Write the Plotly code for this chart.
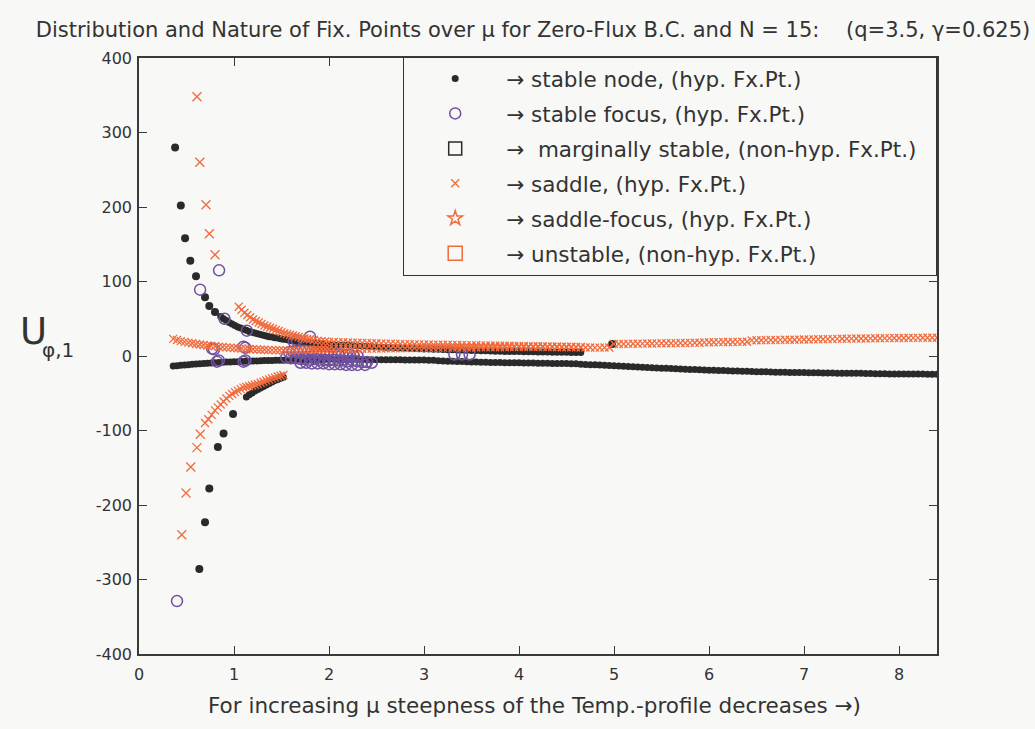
import plotly.graph_objects as go

# ---------------- data ----------------
MU_RIGHT = [2.00,2.05,2.10,2.15,2.20,2.25,2.30,2.35,2.40,2.45,
            2.50,2.55,2.60,2.65,2.70,2.75,2.80,2.85,2.90,2.95,
            3.00,3.05,3.10,3.15,3.20,3.25,3.30,3.35,3.40,3.45,
            3.50,3.55,3.60,3.65,3.70,3.75,3.80,3.85,3.90,3.95,
            4.00,4.05,4.10,4.15,4.20,4.25,4.30,4.35,4.40,4.45,
            4.50,4.55,4.60,4.65,4.70,4.75,4.80,4.85,4.90,4.95,
            5.00,5.05,5.10,5.15,5.20,5.25,5.30,5.35,5.40,5.45,
            5.50,5.55,5.60,5.65,5.70,5.75,5.80,5.85,5.90,5.95,
            6.00,6.05,6.10,6.15,6.20,6.25,6.30,6.35,6.40,6.45,
            6.50,6.55,6.60,6.65,6.70,6.75,6.80,6.85,6.90,6.95,
            7.00,7.05,7.10,7.15,7.20,7.25,7.30,7.35,7.40,7.45,
            7.50,7.55,7.60,7.65,7.70,7.75,7.80,7.85,7.90,7.95,
            8.00,8.05,8.10,8.15,8.20,8.25,8.30,8.35,8.40]

# stable node, lower near-zero branch
SN_LOW_X_LEFT = [0.36,0.40,0.44,0.48,0.52,0.56,0.60,0.64,0.68,0.72,0.76,0.80,0.84,0.88,0.92,0.96,
                 1.00,1.04,1.08,1.12,1.16,1.20,1.24,1.28,1.32,1.36,1.40,1.44,1.48,1.52,1.56,1.60,
                 1.64,1.68,1.72,1.76,1.80,1.84,1.88,1.92,1.96]
SN_LOW_Y_LEFT = [-13.5,-13,-12.5,-12,-11.6,-11.2,-10.8,-10.4,-10,-9.7,-9.4,-9.1,-8.8,-8.5,-8.2,-8,
                 -7.8,-7.6,-7.4,-7.2,-7,-6.8,-6.6,-6.4,-6.2,-6,-5.9,-5.8,-5.7,-5.6,-5.5,-5.4,
                 -5.3,-5.2,-5.1,-5,-4.9,-4.8,-4.7,-4.6,-4.5]
SN_LOW_Y_RIGHT = [-4.5,-4.5,-4.6,-4.6,-4.7,-4.7,-4.8,-4.8,-4.9,-4.9,
                  -5.0,-5.0,-5.1,-5.1,-5.2,-5.2,-5.3,-5.3,-5.4,-5.4,
                  -5.5,-5.6,-5.7,-6.5,-6.7,-6.9,-7.1,-7.3,-7.5,-7.7,
                  -7.9,-8.1,-8.4,-8.5,-8.6,-8.7,-8.8,-8.9,-9.0,-9.1,
                  -9.2,-9.3,-9.4,-9.5,-9.6,-9.7,-9.8,-9.9,-10.0,-10.1,
                  -10.2,-10.3,-10.4,-11.0,-11.3,-11.6,-11.9,-12.2,-12.5,-12.8,
                  -13.1,-13.4,-13.7,-14.0,-14.3,-14.8,-15.1,-15.4,-15.7,-16.0,
                  -16.3,-16.6,-16.9,-17.2,-17.5,-17.8,-18.0,-18.2,-18.4,-18.8,
                  -19.0,-19.2,-19.4,-19.6,-19.8,-20.0,-20.2,-20.4,-20.6,-20.8,
                  -21.0,-21.1,-21.2,-21.6,-21.7,-21.8,-21.9,-22.0,-22.1,-22.2,
                  -22.3,-22.4,-22.5,-22.6,-22.7,-22.8,-22.9,-23.0,-23.0,-23.1,
                  -23.1,-23.2,-23.2,-23.5,-23.6,-23.7,-23.8,-23.9,-24.0,-24.0,
                  -24.1,-24.1,-24.2,-24.2,-24.3,-24.3,-24.4,-24.4,-24.5]

# stable node, upper branch (sparse + dense)
SN_UP_SPARSE_X = [0.38,0.44,0.485,0.54,0.60,0.695,0.74,0.80,4.98]
SN_UP_SPARSE_Y = [280,202,158,128,107,79,67,59,16]
SN_UP_X_LEFT = [0.86,0.89,0.92,0.95,0.98,1.01,1.04,1.07,1.10,1.13,1.16,1.19,1.22,1.25,1.28,1.31,
                1.34,1.37,1.40,1.43,1.46,1.49,1.52,1.55,1.58,1.61,1.64,1.67,1.70,1.74,1.78,1.82,
                1.86,1.90,1.94]
SN_UP_Y_LEFT = [53,50,47.5,45,43,41,39,37.5,36,34.5,33,32,31,30,29,28,
                27,26,25.5,24.5,24,23,22.5,22,21,20.5,20,19.5,19,18.5,18,17.5,
                17,16.5,16]
SN_UP_Y_RIGHT = [15.5,15.2,14.9,14.6,14.3,14.0,13.7,13.4,13.1,12.8,
                 12.5,12.2,11.9,11.6,11.3,11.0,10.7,10.4,10.1,9.8,
                 9.5,9.3,9.1,8.9,8.7,8.5,8.3,8.1,7.9,7.7,
                 7.5,7.3,7.1,6.9,6.7,6.5,6.3,6.2,6.1,6.0,
                 5.9,5.8,5.7,5.6,5.5,5.4,5.3,5.2,5.1,5.0,
                 4.9,4.8,4.7,4.6]

# stable node, negative branch
SN_NEG_SPARSE_X = [0.635,0.695,0.74,0.83,0.89,0.99]
SN_NEG_SPARSE_Y = [-286,-223,-178,-122,-104,-78]
SN_NEG_X = [1.13,1.16,1.19,1.22,1.25,1.28,1.31,1.34,1.37,1.40,1.43,1.46,1.49,1.52]
SN_NEG_Y = [-55,-52,-49.5,-47,-45,-43,-41,-39,-37,-35,-33,-31.5,-30,-28.5]

# stable focus
SF_X = [0.40,0.643,0.843,0.90,1.135,1.80,1.63,1.66,0.77,0.79,0.82,0.84,1.10,1.12,1.10,1.12,
        1.55,1.60,1.65,1.70,1.75,1.80,1.85,1.90,1.95,2.00,2.05,2.10,2.15,2.20,2.25,2.30,2.35,2.40,2.45,
        1.58,1.62,1.66,1.70,1.74,1.78,1.82,1.86,1.90,1.94,1.98,2.02,2.06,2.10,2.14,2.18,2.22,2.26,2.30,
        1.70,1.76,1.82,1.88,1.94,2.00,2.06,2.12,2.18,2.24,2.30,2.38,
        3.32,3.40,3.48]
SF_Y = [-329,89,115,50,34,26,19,21,10,9,-7.6,-6,12.5,11,-7.6,-6,
        -2,-3,-3,-4,-4,-5,-4,-5,-5,-6,-5,-6,-6,-7,-6,-7,-8,-8,-9,
        5,6,6,7,7,6,6,5,5,4,4,3,3,2,2,1,1,0,0,
        -9,-9,-10,-10,-10,-11,-11,-11,-12,-12,-12,-12,
        2,2,2]

# saddle, near-zero band
SD_LOW_X_LEFT = SN_LOW_X_LEFT
SD_LOW_Y_LEFT = [23,21.5,20,19,18,17,16.2,15.5,14.8,14.2,13.6,13,12.5,12,11.6,11.2,
                 10.8,10.4,10,9.7,9.4,9.1,8.8,8.5,8.3,8.1,7.9,7.8,7.7,7.6,7.6,7.7,
                 7.8,7.9,8.0,8.2,8.4,8.6,8.8,8.9,9.0]
SD_LOW_Y_RIGHT = [9.0,9.1,9.2,9.3,9.4,9.5,9.6,9.7,9.8,9.9,
                  10.0,10.1,10.2,10.3,10.4,10.5,10.6,10.7,10.8,10.9,
                  11.0,11.0,11.1,11.1,11.2,11.2,11.3,11.3,11.4,11.4,
                  11.5,11.5,11.6,11.6,11.7,11.7,11.8,11.8,11.9,11.9,
                  12.0,12.0,12.0,12.0,12.0,12.0,11.9,11.9,11.8,11.8,
                  11.7,11.7,11.6,11.5,11.4,11.3,11.2,11.2,11.3,11.5,
                  16.0,16.1,16.2,16.3,16.4,16.5,16.6,16.7,16.8,16.9,
                  17.0,17.1,17.2,17.3,17.4,17.5,17.6,17.7,17.8,18.3,
                  18.4,18.5,18.6,18.7,18.8,18.9,19.0,19.1,19.2,21.0,
                  21.1,21.2,21.3,21.4,21.5,21.6,21.7,21.8,21.9,22.0,
                  22.1,22.2,22.3,22.4,22.5,22.6,22.7,23.0,23.1,23.2,
                  23.3,23.4,23.5,23.6,23.7,23.8,23.9,24.0,24.0,24.1,
                  24.1,24.2,24.2,24.3,24.3,24.4,24.4,24.5,24.5]

# saddle, upper branch (sparse + dense)
SD_UP_SPARSE_X = [0.61,0.64,0.705,0.74,0.80]
SD_UP_SPARSE_Y = [348,260,203,164,136]
SD_UP_X_LEFT = [1.05,1.08,1.11,1.14,1.17,1.20,1.23,1.26,1.29,1.32,1.35,1.38,1.41,1.44,1.47,1.50,
                1.53,1.56,1.59,1.62,1.65,1.68,1.71,1.74,1.77,1.80,1.84,1.88,1.92,1.96]
SD_UP_Y_LEFT = [66,62,58,55,52,49,47,45,43,41,39.5,38,36.5,35,33.5,32,
                30.5,29.5,28.5,27.5,26.5,25.5,24.5,23.5,23,22.5,21.5,20.5,20,19.5]
SD_UP_Y_RIGHT = [19.0,18.8,18.6,18.4,18.2,18.0,17.8,17.6,17.4,17.2,
                 17.0,16.8,16.6,16.4,16.2,16.0,15.9,15.8,15.7,15.6,
                 15.5,15.4,15.3,15.2,15.1,15.0,14.9,14.8,14.7,14.6,
                 14.5,14.4,14.3,14.2,14.1,14.0,13.9,13.8,13.7,13.6,
                 13.5,13.4,13.3,13.2,13.1,13.0,12.9,12.8,12.7,12.6,
                 12.5,12.4,12.3,12.2]

# saddle, negative branch
SD_NEG_SPARSE_X = [0.45,0.495,0.545,0.61,0.645]
SD_NEG_SPARSE_Y = [-240,-184,-149,-123,-105]
SD_NEG_X = [0.695,0.73,0.765,0.80,0.83,0.86,0.89,0.92,0.95,0.98,1.01,1.04,1.07,1.10,
            1.13,1.16,1.19,1.22,1.25,1.28,1.31,1.34,1.37,1.40,1.43,1.46,1.49,1.52]
SD_NEG_Y = [-90,-85,-79,-73,-69,-65,-61,-57,-53.5,-51,-48.5,-46.5,-44.5,-42.5,
            -41.5,-40.5,-39.5,-38.5,-37.5,-36,-34.5,-33,-31.5,-30,-29,-27.5,-26.5,-25.5]

X_TICKS = [0, 1, 2, 3, 4, 5, 6, 7, 8]
Y_TICKS = [-400, -300, -200, -100, 0, 100, 200, 300, 400]
Y_TICK_TEXT = ['-400', '-300', '-200', '-100', '0', '100', '200', '300', '400']

NAMES = ['\u2192 stable node, (hyp. Fx.Pt.)',
         '\u2192 stable focus, (hyp. Fx.Pt.)',
         '\u2192\u00a0 marginally stable, (non-hyp. Fx.Pt.)\u00a0\u00a0',
         '\u2192 saddle, (hyp. Fx.Pt.)',
         '\u2192 saddle-focus, (hyp. Fx.Pt.)',
         '\u2192 unstable, (non-hyp. Fx.Pt.)']

# ---------------- styles ----------------
BLACK = '#2a2a2a'
PURPLE = '#7050a0'
ORANGE = '#f26a3c'
BG = '#f8f8f6'
FONT = 'DejaVu Sans'


def join(a, b):
    return list(a) + list(b)


fig = go.Figure()


def add(x, y, group, rank, name=None, show=False, symbol='circle', size=7,
        color=BLACK, lw=0, lcolor=None):
    fig.add_trace(go.Scatter(
        x=x, y=y, mode='markers', name=name if name else group,
        legendgroup=group, showlegend=show, legendrank=rank,
        marker=dict(symbol=symbol, size=size, color=color,
                    line=dict(width=lw, color=lcolor if lcolor else color)),
        hoverinfo='skip'))


# stable node (black dots)
add(join(SN_LOW_X_LEFT, MU_RIGHT), join(SN_LOW_Y_LEFT, SN_LOW_Y_RIGHT), 'sn', 1,
    name=NAMES[0], show=True, size=7)
add(join(SN_UP_X_LEFT, MU_RIGHT[:len(SN_UP_Y_RIGHT)]), join(SN_UP_Y_LEFT, SN_UP_Y_RIGHT),
    'sn', 1, size=7)
add(SN_UP_SPARSE_X, SN_UP_SPARSE_Y, 'sn', 1, size=8)
add(SN_NEG_SPARSE_X, SN_NEG_SPARSE_Y, 'sn', 1, size=8)
add(SN_NEG_X, SN_NEG_Y, 'sn', 1, size=7)

# stable focus (purple open circles)
add(SF_X, SF_Y, 'sf', 2, name=NAMES[1], show=True, symbol='circle-open', size=11,
    color=PURPLE, lw=1.5)

# marginally stable (legend only)
add([None], [None], 'ms', 3, name=NAMES[2], show=True, symbol='square-open', size=13,
    color=BLACK, lw=1.5)

# saddle (orange x)
add(join(SD_LOW_X_LEFT, MU_RIGHT), join(SD_LOW_Y_LEFT, SD_LOW_Y_RIGHT), 'sd', 4,
    name=NAMES[3], show=True, symbol='x-thin', size=8, color=ORANGE, lw=1.3)
add(join(SD_UP_X_LEFT, MU_RIGHT[:len(SD_UP_Y_RIGHT)]), join(SD_UP_Y_LEFT, SD_UP_Y_RIGHT),
    'sd', 4, symbol='x-thin', size=8, color=ORANGE, lw=1.3)
add(SD_UP_SPARSE_X, SD_UP_SPARSE_Y, 'sd', 4, symbol='x-thin', size=9, color=ORANGE, lw=1.3)
add(SD_NEG_SPARSE_X, SD_NEG_SPARSE_Y, 'sd', 4, symbol='x-thin', size=9, color=ORANGE, lw=1.3)
add(SD_NEG_X, SD_NEG_Y, 'sd', 4, symbol='x-thin', size=8, color=ORANGE, lw=1.3)

# saddle-focus, unstable (legend only)
add([None], [None], 'sdf', 5, name=NAMES[4], show=True, symbol='star-open', size=11,
    color=ORANGE, lw=1.5)
add([None], [None], 'un', 6, name=NAMES[5], show=True, symbol='square-open', size=14,
    color=ORANGE, lw=1.5)

axis_common = dict(showline=True, linecolor='#3a3a3a', linewidth=1.5, mirror='ticks',
                   ticks='inside', ticklen=8, tickcolor='#3a3a3a', tickwidth=1.2,
                   showgrid=False, zeroline=False,
                   tickfont=dict(family=FONT, size=16, color='#333'))

fig.update_layout(
    width=1035, height=729,
    margin=dict(l=139, r=98, t=58, b=75),
    paper_bgcolor=BG, plot_bgcolor=BG,
    font=dict(family=FONT, color='#333'),
    title=dict(text='Distribution and Nature of Fix. Points over \u03bc for Zero-Flux B.C. and N = 15:'
                    '\u00a0\u00a0\u00a0\u00a0(q=3.5, \u03b3=0.625)',
               x=0.515, xref='container', xanchor='center',
               y=1 - 30 / 729, yref='container', yanchor='middle',
               font=dict(family=FONT, size=21, color='#333')),
    xaxis=dict(range=[0, 8.4], tickvals=X_TICKS, ticklabelstandoff=5, **axis_common),
    yaxis=dict(range=[-400, 400], tickvals=Y_TICKS, ticktext=Y_TICK_TEXT,
               ticklabelstandoff=2, **axis_common),
    legend=dict(x=1, xanchor='right', y=1.002, yanchor='top',
                bgcolor=BG, bordercolor='#333', borderwidth=1.2,
                font=dict(family=FONT, size=21.5, color='#333'),
                itemwidth=92, tracegroupgap=4, traceorder='grouped'),
    showlegend=True,
    annotations=[
        dict(text='For increasing \u03bc steepness of the Temp.-profile decreases \u2192)',
             x=0.496, y=-0.0856, xref='paper', yref='paper', xanchor='center', yanchor='middle',
             showarrow=False, font=dict(family=FONT, size=21.5, color='#333')),
        dict(text='U', x=(33 - 139) / 798, y=(654 - 331) / 596, xref='paper', yref='paper',
             xanchor='center', yanchor='middle', showarrow=False,
             font=dict(family=FONT, size=37, color='#333')),
        dict(text='\u03c6,1', x=(58 - 139) / 798, y=(654 - 350) / 596, xref='paper', yref='paper',
             xanchor='center', yanchor='middle', showarrow=False,
             font=dict(family=FONT, size=20, color='#333')),
    ],
)

fig.write_html('out.html', config={'displayModeBar': False},
               post_script="document.body.style.margin='0';"
                           "document.body.style.background='#f8f8f6';")
